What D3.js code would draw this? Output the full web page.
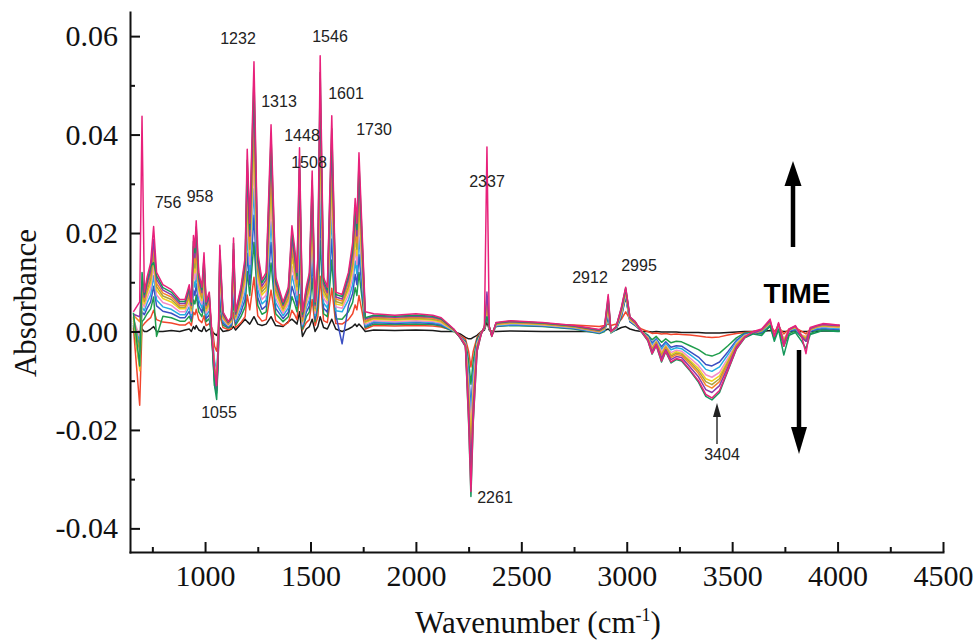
<!DOCTYPE html>
<html><head><meta charset="utf-8">
<script src="https://cdn.jsdelivr.net/npm/d3@7"></script>
<style>body{margin:0;background:#fff}</style>
</head><body>
<svg id="c" width="975" height="641"></svg>
<script>
// ---------- DATA ----------
const wavenumber = [660,690,701,712,725,742,756,770,800,840,880,905,925,935,945,952,958,970,985,995,1005,1020,1035,1045,1055,1062,1070,1085,1110,1125,1135,1145,1170,1190,1200,1212,1232,1250,1270,1290,1313,1335,1370,1395,1412,1425,1436,1448,1462,1480,1495,1508,1522,1535,1546,1562,1580,1601,1620,1650,1680,1700,1712,1720,1730,1745,1760,1800,1900,2000,2080,2120,2180,2210,2235,2250,2261,2272,2290,2310,2325,2337,2348,2360,2380,2450,2600,2750,2870,2895,2912,2925,2950,2975,2995,3015,3040,3070,3100,3120,3140,3165,3185,3210,3235,3260,3300,3340,3375,3404,3440,3480,3520,3560,3600,3640,3680,3700,3720,3745,3770,3800,3830,3850,3870,3900,3930,3960,4000,4010];

const spectrumBlack = [0,0,.0005,0,0,.0005,.001,0,0,.0002,0,.0003,.0005,0,.001,.0005,.0012,.0003,0,.001,0,.0005,0,-.0005,-.0008,0,.0008,0,.0002,.0005,.001,.0003,.0015,.0025,.002,.0015,.003,.0015,.0012,.0015,.003,.0012,.001,.002,.0025,.002,.0015,.004,-.001,.0005,.001,.0025,0,.001,.003,.0008,.0005,.0025,.0005,0,.0005,.001,.0015,.001,.0015,.0008,0,.0003,.0002,.0003,.0002,0,0,-.0005,-.0012,-.0015,-.0015,-.0012,-.0008,0,.0003,.002,.0003,0,0,.0001,0,0,0,.0002,.0005,0,.0003,.0008,.001,.0005,.0002,0,0,-.0001,0,-.0001,-.0001,-.0001,-.0001,-.0002,-.0002,-.0002,-.0003,-.0003,-.0003,-.0002,-.0001,0,0,0,.0002,0,.0001,0,0,0,0,0,0,0,.0001,.0001,.0001,.0001];

const spectrumRed = [.0008,-.015,.001,.0016,.0022,.0028,.0043,.0024,.0019,.0017,.0013,.0013,.0019,.0012,.0039,.0034,.0045,.0024,.0018,.0032,.0012,.0016,.0005,-.003,-.004,-.001,.0035,.0008,.0004,.0006,.0038,.0008,.0018,.003,.0074,.0044,.011,.0032,.0021,.0024,.0084,.0022,.0012,.0018,.0043,.0034,.0024,.0075,.0003,.0018,.0024,.0065,.0012,.003,.0112,.0022,.0018,.0088,.0016,.0015,.0024,.0036,.0054,.0044,.0073,.004,.0005,.0012,.0011,.0012,.0011,.0009,.0002,-.0008,-.0015,-.004,-.0072,-.004,-.0012,0,.0006,.003,.0006,-.0003,.0012,.0016,.0015,.0013,.001,.0012,.0015,.0012,.0015,.0025,.004,.0025,.0015,.0005,0,-.0004,-.0003,-.0005,-.0004,-.0006,-.0005,-.0006,-.0007,-.0009,-.0011,-.0012,-.0011,-.0007,-.0004,-.0002,0,.0003,.0015,0,.001,-.0005,.0005,.0008,0,-.0005,.0005,.0008,.001,.0012,.0012,.0012];

const spectrumGreen = [.0013,-.007,.002,.0026,.0036,.0046,.007,-.001,.0031,.0028,.0021,.0021,.0031,.002,.0064,.0056,.0074,.004,.003,.0053,.002,.0026,-.003,-.011,-.0125,-.006,.0058,.0013,.0007,.001,.0063,.0013,.003,.005,.0122,.0073,.0181,.0053,.0035,.004,.0139,.0036,.002,.003,.0071,.0056,.004,.0123,.0005,.003,.004,.0108,.002,.005,.0185,.0036,.003,.0145,.0026,.0025,.004,.0059,.0089,.0073,.012,.0066,.0008,.0015,.0014,.0015,.0014,.0011,0,-.001,-.002,-.0059,-.0107,-.0059,-.0015,-.0002,.0006,.0035,.0006,-.0005,.001,.0012,.001,.0005,-.0004,0,.003,-.0003,.0004,.003,.007,.002,.0012,0,-.0007,-.0017,-.001,-.0022,-.0015,-.0023,-.002,-.0021,-.0029,-.0037,-.0047,-.005,-.0044,-.0029,-.0013,-.0003,-.0002,-.0005,.001,-.0015,.0005,-.003,-.0005,.0002,-.0012,-.002,-.0005,.0002,.0004,.0003,.0002,.0002];

const spectrumBlue = [.0017,-.003,.004,.0034,.0047,.006,.0092,.0052,.0041,.0037,.0028,.0028,.0041,.0026,.0084,.0073,.0097,.0052,.0039,.0069,.0026,.0034,-.002,-.009,-.011,-.005,.0075,.0017,.0009,.0013,.0082,.0017,.0039,.0065,.0159,.0095,.0236,.0069,.0045,.0052,.0181,.0047,.0026,.0039,.0092,.0073,.0052,.016,.001,.0039,.0052,.014,.0026,.0065,.0241,.0047,.0039,.0188,.0034,-.0025,.0052,.0077,.0116,.0095,.0156,.0086,.001,.0018,.0016,.0018,.0016,.0013,.0001,-.001,-.0022,-.0085,-.0153,-.0085,-.002,-.0002,.0007,.004,.0007,-.0006,.0011,.0013,.0011,.0006,-.0003,.0002,.0035,-.0002,.0005,.0032,.0072,.002,.0013,-.0001,-.0009,-.0023,-.0015,-.0031,-.0021,-.0032,-.0029,-.003,-.0041,-.0052,-.0067,-.007,-.0062,-.0041,-.0018,-.0005,-.0003,-.0002,.0012,-.001,.0008,-.002,0,.0004,-.001,-.0015,0,.0004,.0006,.0005,.0004,.0004];

const spectrumCyan = [.0021,-.002,.005,.0042,.0058,.0074,.0113,.0064,.005,.0045,.0034,.0034,.005,.0032,.0103,.009,.0119,.0064,.0048,.0085,.0032,.0042,-.001,-.006,-.008,-.003,.0093,.0021,.0011,.0016,.0101,.0021,.0048,.008,.0196,.0117,.029,.0085,.0056,.0064,.0223,.0058,.0032,.0048,.0114,.009,.0064,.0198,.0012,.0048,.0064,.0173,.0032,.008,.0297,.0058,.0048,.0232,.0042,.004,.0064,.0095,.0143,.0117,.0192,.0106,.0012,.002,.0018,.002,.0018,.0015,.0001,-.0011,-.0024,-.0094,-.0169,-.0094,-.0022,-.0003,.0007,.004,.0007,-.0007,.0012,.0014,.0012,.0007,-.0002,.0003,.004,-.0002,.0006,.0035,.0075,.0022,.0014,-.0001,-.0011,-.0027,-.0017,-.0036,-.0024,-.0037,-.0033,-.0035,-.0047,-.006,-.0077,-.0081,-.0072,-.0047,-.0021,-.0007,-.0003,0,.0014,-.0008,.001,-.0018,.0002,.0006,-.0008,-.0012,.0002,.0006,.0008,.0007,.0006,.0006];

const spectrumPink = [.0025,-.001,.006,.005,.0068,.0087,.0132,.0074,.0059,.0053,.004,.004,.0059,.0037,.0121,.0105,.014,.0074,.0056,.0099,.0037,.005,-.0015,-.007,-.009,-.004,.0109,.0025,.0012,.0019,.0118,.0025,.0056,.0093,.0229,.0136,.034,.0099,.0065,.0074,.026,.0068,.0037,.0056,.0133,.0105,.0074,.0231,.0015,.0056,.0074,.0202,.0037,.0093,.0347,.0068,.0056,.0272,.005,.0047,.0074,.0112,.0167,.0136,.0225,.0124,.0015,.0022,.002,.0022,.002,.0017,.0002,-.0011,-.0025,-.0108,-.0195,-.0108,-.0025,-.0003,.0008,.005,.0008,-.0007,.0013,.0016,.0013,.0008,-.0001,.0005,.0045,-.0001,.0007,.0038,.0078,.0023,.0015,-.0001,-.0012,-.0031,-.0019,-.0041,-.0028,-.0043,-.0038,-.004,-.0054,-.0069,-.0088,-.0093,-.0083,-.0054,-.0024,-.0008,-.0003,.0002,.0016,-.0006,.0012,-.0015,.0003,.0008,-.0007,-.001,.0003,.0008,.001,.0009,.0008,.0008];

const spectrumYellow = [.0028,-.008,.007,.0056,.0077,.0098,.0149,.0084,.0067,.006,.0046,.0046,.0067,.0042,.0137,.0119,.0158,.0084,.0063,.0112,.0042,.0056,-.002,-.008,-.01,-.004,.0123,.0028,.0014,.0021,.0133,.0028,.0063,.0105,.0259,.0154,.0384,.0112,.0074,.0084,.0294,.0077,.0042,.0063,.0151,.0119,.0084,.0261,.002,.0063,.0084,.0228,.0042,.0105,.0392,.0077,.0063,.0307,.0056,.0053,.0084,.0126,.0189,.0154,.0254,.014,.0018,.0025,.0023,.0025,.0023,.0019,.0002,-.0012,-.0026,-.0122,-.0221,-.0122,-.0028,-.0003,.0008,.005,.0008,-.0008,.0014,.0017,.0014,.0009,0,.0006,.005,-.0001,.0008,.004,.008,.0024,.0016,0,-.0014,-.0034,-.0021,-.0045,-.003,-.0047,-.0041,-.0044,-.0059,-.0075,-.0096,-.0101,-.009,-.0059,-.0026,-.0009,-.0003,.0002,.0018,-.0008,.0013,-.0018,.0003,.0009,-.0008,-.0012,.0003,.0009,.0011,.001,.0009,.0009];

const spectrumOlive = [.003,-.004,.008,.0061,.0084,.0106,.0162,.0091,.0072,.0065,.0049,.0049,.0072,.0046,.0148,.0129,.0171,.0091,.0068,.0122,.0046,.0061,-.002,-.0075,-.0095,-.004,.0133,.003,.0015,.0023,.0144,.003,.0068,.0114,.0281,.0167,.0416,.0122,.008,.0091,.0319,.0084,.0046,.0068,.0163,.0129,.0091,.0283,.0022,.0068,.0091,.0248,.0046,.0114,.0426,.0084,.0068,.0333,.0061,.0057,.0091,.0137,.0205,.0167,.0276,.0152,.002,.0027,.0025,.0027,.0025,.0021,.0003,-.0012,-.0027,-.0139,-.025,-.0139,-.0031,-.0004,.0008,.006,.0008,-.0008,.0015,.0018,.0015,.0009,0,.0007,.0055,0,.0008,.0042,.0082,.0025,.0017,0,-.0014,-.0036,-.0022,-.0048,-.0032,-.005,-.0044,-.0046,-.0062,-.008,-.0102,-.0108,-.0096,-.0062,-.0028,-.001,-.0003,.0001,.0018,-.001,.0014,-.002,.0003,.0009,-.0009,-.0015,.0004,.0009,.0012,.0011,.001,.001];

const spectrumOrange = [.0033,.002,.009,.0066,.009,.0115,.0175,.0098,.0078,.007,.0053,.0053,.0078,.0049,.016,.0139,.0185,.0098,.0074,.0131,.0049,.0066,-.0025,-.0085,-.0105,-.0045,.0144,.0033,.0016,.0025,.0156,.0033,.0074,.0123,.0303,.018,.0449,.0131,.0086,.0098,.0344,.009,.0049,.0074,.0176,.0139,.0098,.0306,.0025,.0074,.0098,.0267,.0049,.0123,.0459,.009,.0074,.0359,.0066,.0062,.0098,.0148,.0221,.018,.0298,.0164,.0022,.0029,.0027,.0029,.0027,.0023,.0003,-.0012,-.0028,-.0144,-.026,-.0144,-.0032,-.0004,.0009,.007,.0009,-.0009,.0016,.0019,.0016,.001,.0001,.0008,.006,0,.0009,.0044,.0084,.0026,.0018,0,-.0015,-.0038,-.0024,-.0051,-.0034,-.0053,-.0047,-.0049,-.0066,-.0085,-.0109,-.0115,-.0102,-.0066,-.003,-.001,-.0004,.0003,.002,-.0009,.0015,-.0022,.0004,.001,-.0009,-.0018,.0005,.001,.0013,.0012,.0011,.0011];

const spectrumPurple = [.0035,.003,.010,.007,.0097,.0123,.0187,.0106,.0084,.0075,.0057,.0057,.0084,.0053,.0172,.015,.0198,.0106,.0079,.0141,.0053,.007,-.003,-.01,-.012,-.005,.0154,.0035,.0018,.0026,.0167,.0035,.0079,.0132,.0326,.0194,.0482,.0141,.0092,.0106,.037,.0097,.0053,.0079,.0189,.015,.0106,.0328,.003,.0079,.0106,.0287,.0053,.0132,.0493,.0097,.0079,.0385,.007,.0066,.0106,.0158,.0238,.0194,.0319,.0176,.0025,.0031,.0029,.0031,.0029,.0025,.0004,-.0013,-.0029,-.0155,-.028,-.0155,-.0034,-.0004,.0009,.008,.0009,-.0009,.0017,.002,.0017,.0011,.0002,.0009,.0065,0,.0009,.0046,.0086,.0028,.0019,0,-.0017,-.0041,-.0026,-.0055,-.0037,-.0057,-.0051,-.0053,-.0072,-.0092,-.0118,-.0124,-.011,-.0072,-.0032,-.0011,-.0004,.0004,.0022,-.001,.0016,-.0025,.0004,.0011,-.001,-.002,.0006,.0011,.0014,.0013,.0012,.0012];

const spectrumDarkGreen = [.0038,-.007,.012,.0075,.0103,.0132,.014,.0113,.0089,.008,.0061,.0061,.0089,.0056,.0183,.016,.0212,.0113,.0085,.015,.0056,.0075,-.0035,-.011,-.0138,-.006,.0165,.0038,.0019,.0028,.0179,.0038,.0085,.0141,.0348,.0207,.0515,.015,.0099,.0113,.0395,.0103,.0056,.0085,.0202,.016,.0113,.0351,.0035,.0085,.0113,.0306,.0056,.0141,.0526,.0103,.0085,.0412,.0075,.0071,.0113,.0169,.0254,.0207,.0341,.0188,.0028,.0033,.0031,.0033,.0031,.0026,.0004,-.0013,-.0031,-.0185,-.0335,-.0185,-.0041,-.0005,.001,.003,.001,-.001,.0017,.0021,.0017,.0011,.0003,.001,.007,0,.001,.0048,.0088,.0029,.002,-.0001,-.0019,-.0046,-.0029,-.0062,-.0041,-.0064,-.0057,-.006,-.008,-.0103,-.0132,-.0139,-.0124,-.008,-.0036,-.0013,-.0005,-.0008,.0012,-.002,.0004,-.0048,-.0008,-.0002,-.002,-.0035,-.0006,-.0002,.0002,.0001,0,0];

const spectrumMagenta = [.004,.006,.0437,.008,.011,.014,.0213,.012,.0095,.0085,.0065,.0065,.0095,.006,.0195,.017,.0225,.012,.009,.016,.006,.008,-.002,-.008,-.011,-.004,.0175,.004,.002,.003,.019,.004,.009,.015,.037,.022,.0548,.016,.0105,.012,.042,.011,.006,.009,.0215,.017,.012,.0373,.004,.009,.012,.0326,.006,.015,.056,.011,.009,.0438,.008,.0075,.012,.018,.027,.022,.0363,.02,.004,.0036,.0033,.0036,.0033,.0028,.0005,-.0012,-.003,-.018,-.0325,-.018,-.004,-.0005,.001,.0375,.001,-.001,.0018,.0022,.0018,.0012,.0004,.0012,.0075,0,.001,.005,.009,.003,.002,0,-.0018,-.0045,-.0028,-.006,-.004,-.0062,-.0055,-.0058,-.0078,-.01,-.0128,-.0135,-.012,-.0078,-.0035,-.0012,0,.0005,.0025,-.001,.0018,-.003,.0005,.0012,-.001,-.0045,.0008,.0012,.0016,.0015,.0013,.0013];

const xTicks = [1000,1500,2000,2500,3000,3500,4000,4500];
const xMinorTicks = [750,1250,1750,2250,2750,3250,3750,4250];
const yTicks = [-0.04,-0.02,0,0.02,0.04,0.06];
const yMinorTicks = [-0.03,-0.01,0.01,0.03,0.05];
const peakLabels = ["756","958","1055","1232","1313","1448","1508","1546","1601","1730","2261","2337","2912","2995","3404"];

// ---------- DRAW ----------
const series = [
  {v: spectrumBlack,     c: "#1a1a1a"},
  {v: spectrumRed,       c: "#f2452c"},
  {v: spectrumGreen,     c: "#1f9d4c"},
  {v: spectrumBlue,      c: "#3b4fc2"},
  {v: spectrumCyan,      c: "#25aee2"},
  {v: spectrumPink,      c: "#f28ccb"},
  {v: spectrumYellow,    c: "#f0d21c"},
  {v: spectrumOlive,     c: "#a9a23c"},
  {v: spectrumOrange,    c: "#f5872b"},
  {v: spectrumPurple,    c: "#8b3aa9"},
  {v: spectrumDarkGreen, c: "#15975a"},
  {v: spectrumMagenta,   c: "#e8217b"}
];

const svg = d3.select("#c");
const x = d3.scaleLinear().domain([644, 4500]).range([130, 943]);
const y = d3.scaleLinear().domain([-0.0448, 0.0649]).range([552, 12]);

const line = d3.line().x(d => x(d[0])).y(d => y(d[1]));
const gLines = svg.append("g");
series.forEach(s => {
  const pts = wavenumber.map((w, i) => [w, s.v[i]]);
  gLines.append("path").attr("d", line(pts)).attr("fill", "none")
    .attr("stroke", s.c).attr("stroke-width", 1.5).attr("stroke-linejoin", "round");
});

// axes
const serif = "'Liberation Serif','Times New Roman',serif";
const xAxis = d3.axisBottom(x).tickValues(xTicks).tickSizeInner(-10).tickSizeOuter(0).tickPadding(13).tickFormat(d3.format("d"));
const gx = svg.append("g").attr("transform", "translate(0,552)").call(xAxis);
gx.selectAll(".tick text").attr("font-family", serif).attr("font-size", 30).attr("fill", "#111");
svg.append("g").attr("transform", "translate(0,552)")
  .call(d3.axisBottom(x).tickValues(xMinorTicks).tickSizeInner(-5).tickSizeOuter(0).tickFormat(""))
  .select(".domain").remove();

const yAxis = d3.axisLeft(y).tickValues(yTicks).tickSizeInner(-10).tickSizeOuter(0).tickPadding(12).tickFormat(d => d.toFixed(2));
const gy = svg.append("g").attr("transform", "translate(130,0)").call(yAxis);
gy.selectAll(".tick text").attr("font-family", serif).attr("font-size", 30).attr("fill", "#111");
svg.append("g").attr("transform", "translate(130,0)")
  .call(d3.axisLeft(y).tickValues(yMinorTicks).tickSizeInner(-5).tickSizeOuter(0).tickFormat(""))
  .select(".domain").remove();

svg.selectAll(".domain, .tick line").attr("stroke", "#111").attr("stroke-width", 2);
svg.selectAll(".domain").attr("stroke-linecap", "square");

// axis titles
svg.append("text").attr("transform", "translate(36,303) rotate(-90)")
  .attr("text-anchor", "middle").attr("font-family", serif).attr("font-size", 31).attr("fill", "#111")
  .text("Absorbance");
const xt = svg.append("text").attr("x", 538).attr("y", 633).attr("text-anchor", "middle")
  .attr("font-family", serif).attr("font-size", 31).attr("fill", "#111");
xt.append("tspan").text("Wavenumber (cm");
xt.append("tspan").attr("dy", -12).attr("font-size", 18).text("-1");
xt.append("tspan").attr("dy", 12).text(")");

// peak annotations (label layout in px)
const sans = "'Liberation Sans',Arial,sans-serif";
const labelPos = {
  "756":[168,208], "958":[200,202], "1055":[219,418], "1232":[238,44], "1313":[279,107],
  "1448":[302,141], "1508":[309,168], "1546":[330,42], "1601":[346,99], "1730":[374,135],
  "2261":[495,503], "2337":[487,187], "2912":[590,283], "2995":[639,271], "3404":[722,460]
};
peakLabels.forEach(t => {
  const p = labelPos[t];
  svg.append("text").attr("x", p[0]).attr("y", p[1]).attr("text-anchor", "middle")
    .attr("font-family", sans).attr("font-size", 16).attr("fill", "#222").text(t);
});

// TIME and arrows
svg.append("text").attr("x", 797).attr("y", 303).attr("text-anchor", "middle")
  .attr("font-family", sans).attr("font-weight", "bold").attr("font-size", 28).attr("fill", "#000").text("TIME");
// up arrow
svg.append("line").attr("x1", 793).attr("x2", 793).attr("y1", 247).attr("y2", 182).attr("stroke", "#000").attr("stroke-width", 4.5);
svg.append("path").attr("d", "M793,161 L801.5,186 L784.5,186 Z").attr("fill", "#000");
// down arrow
svg.append("line").attr("x1", 799).attr("x2", 799).attr("y1", 350).attr("y2", 432).attr("stroke", "#000").attr("stroke-width", 4.5);
svg.append("path").attr("d", "M799,454 L807,427 L791,427 Z").attr("fill", "#000");
// 3404 pointer
svg.append("line").attr("x1", 717).attr("x2", 717).attr("y1", 444).attr("y2", 414).attr("stroke", "#222").attr("stroke-width", 1.4);
svg.append("path").attr("d", "M717,403 L721,417 L713,417 Z").attr("fill", "#222");
</script>
</body></html>
